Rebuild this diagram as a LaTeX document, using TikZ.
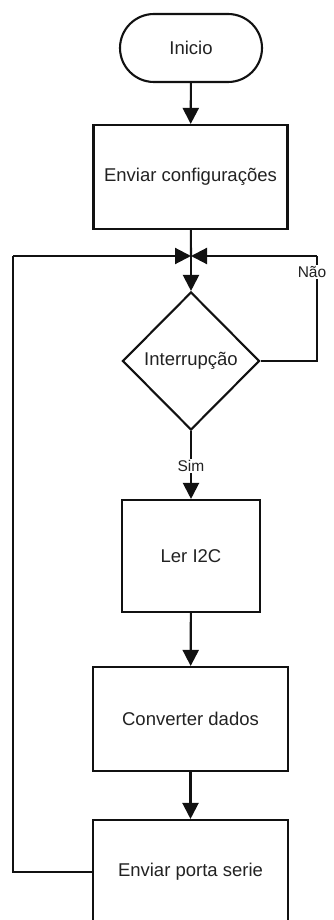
\documentclass[tikz,border=0pt]{standalone}
\usepackage{fontspec}
\setmainfont{Liberation Sans}
\usetikzlibrary{arrows.meta,shapes.geometric}
\definecolor{txt}{HTML}{222222}
\definecolor{ln}{HTML}{111111}
\tikzset{
  base/.style={draw=ln, line width=2.1pt, text=txt, font=\fontsize{18.5}{22}\selectfont, inner sep=0pt, align=center},
  boxnode/.style={base, rectangle},
  term/.style={base, rectangle, rounded corners=34pt},
  decision/.style={base, diamond},
  flow/.style={draw=ln, line width=2.1pt, -{Triangle[width=16pt,length=16pt]}},
  plain/.style={draw=ln, line width=2.1pt},
  lbl/.style={text=txt, font=\fontsize{15.5}{18}\selectfont, fill=white, inner sep=1pt}
}
\begin{document}
\begin{tikzpicture}[x=1pt,y=-1pt]
\useasboundingbox[fill=white] (0,0) rectangle (333,920);
\node[term, minimum width=142pt, minimum height=68pt] (ini) at (191,48) {Inicio};
\node[boxnode, minimum width=194pt, minimum height=104pt] (conf) at (190.5,177) {Enviar configurações};
\coordinate (j) at (191,256);
\node[decision, minimum width=137pt, minimum height=138pt] (dec) at (191,361) {Interrupção};
\node[boxnode, minimum width=138pt, minimum height=112pt] (ler) at (191,556) {Ler I2C};
\node[boxnode, minimum width=195pt, minimum height=104pt] (conv) at (190.5,719) {Converter dados};
\node[boxnode, minimum width=195pt, minimum height=104pt] (porta) at (190.5,872) {Enviar porta serie};
\coordinate (nr) at (317,361);
\coordinate (nt) at (317,256);
\coordinate (lb) at (13,872);
\coordinate (lt) at (13,256);
\node[lbl] (nao) at (312,272) {Não};
\node[lbl] (sim) at (191,466) {Sim};

\draw[flow] (ini) -- (conf);
\draw[plain] (conf) -- (j);
\draw[flow] (j) -- (dec);
\draw[plain] (dec.east) -- (nr) -- (nt);
\draw[flow] (nt) -- (j);
\draw[plain] (porta.west) -- (lb) -- (lt);
\draw[flow] (lt) -- (j);
\node[lbl] at (nao) {Não};
\draw[plain] (dec.south) -- (sim.north);
\draw[flow] (sim.south) -- (ler.north);
\draw[flow] (ler) -- (conv);
\draw[flow] (conv) -- (porta);
\end{tikzpicture}
\end{document}
